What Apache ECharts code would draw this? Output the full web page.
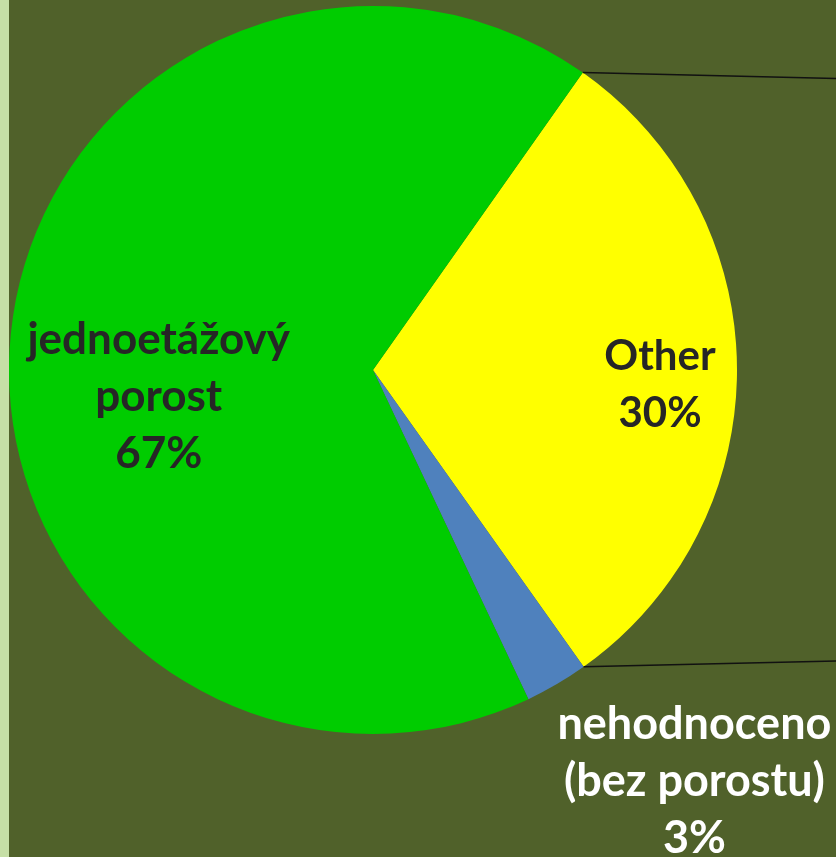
<!DOCTYPE html>
<html><head><meta charset="utf-8">
<script src="https://cdn.jsdelivr.net/npm/echarts@6/dist/echarts.min.js"></script>
<style>html,body{margin:0;padding:0;background:#50612a;}#c{width:836px;height:857px;}</style>
</head><body><div id="c"></div>
<script>
const categories = ['Other', 'nehodnoceno (bez porostu)', 'jednoetážový porost'];
const values = [30.4, 2.8, 66.8];
const colors = ['#ffff00', '#4f81bd', '#00cc00'];

const W = 836, H = 857;
const CX = 373, CY = 370, R = 364, START = 54.8;
const labelStyles = [
  { color: '#262626', offset: [102, 15], size: 42 },
  { color: '#ffffff', offset: [228, 252], size: 45 },
  { color: '#262626', offset: [-30, 43], size: 44 }
];

const total = values.reduce((a, b) => a + b, 0);
function edgePoint(angDeg) {
  const a = angDeg * Math.PI / 180;
  return [CX + R * Math.cos(a), CY - R * Math.sin(a)];
}
const a1 = START, a2 = START - 360 * values[0] / total;
const p1 = edgePoint(a1), p2 = edgePoint(a2);
const k = 0.02;

const chart = echarts.init(document.getElementById('c'), null, { renderer: 'canvas' });
chart.setOption({
  backgroundColor: '#50612a',
  animation: false,
  graphic: [
    { type: 'rect', left: 0, top: 0, shape: { width: 9, height: H }, style: { fill: '#c6dfa6' }, z: 10 },
    { type: 'line', shape: { x1: p1[0], y1: p1[1], x2: W, y2: p1[1] + (CY - p1[1]) * k }, style: { stroke: '#111', lineWidth: 1.5 }, z: 10 },
    { type: 'line', shape: { x1: p2[0], y1: p2[1], x2: W, y2: p2[1] + (CY - p2[1]) * k }, style: { stroke: '#111', lineWidth: 1.5 }, z: 10 }
  ],
  series: [{
    type: 'pie',
    center: [CX, CY],
    radius: [0, R],
    startAngle: START,
    clockwise: true,
    avoidLabelOverlap: false,
    labelLine: { show: false },
    emphasis: { disabled: true },
    label: {
      show: true,
      position: 'inside',
      fontFamily: 'Lato',
      fontWeight: 'bold',
      fontSize: 42,
      lineHeight: 57,
      align: 'center',
      formatter: p => p.name.replace(' ', '\n') + '\n' + Math.round(p.percent) + '%'
    },
    data: categories.map((name, i) => ({
      name, value: values[i],
      itemStyle: { color: colors[i] },
      label: { color: labelStyles[i].color, offset: labelStyles[i].offset, fontSize: labelStyles[i].size }
    }))
  }]
});
</script></body></html>
